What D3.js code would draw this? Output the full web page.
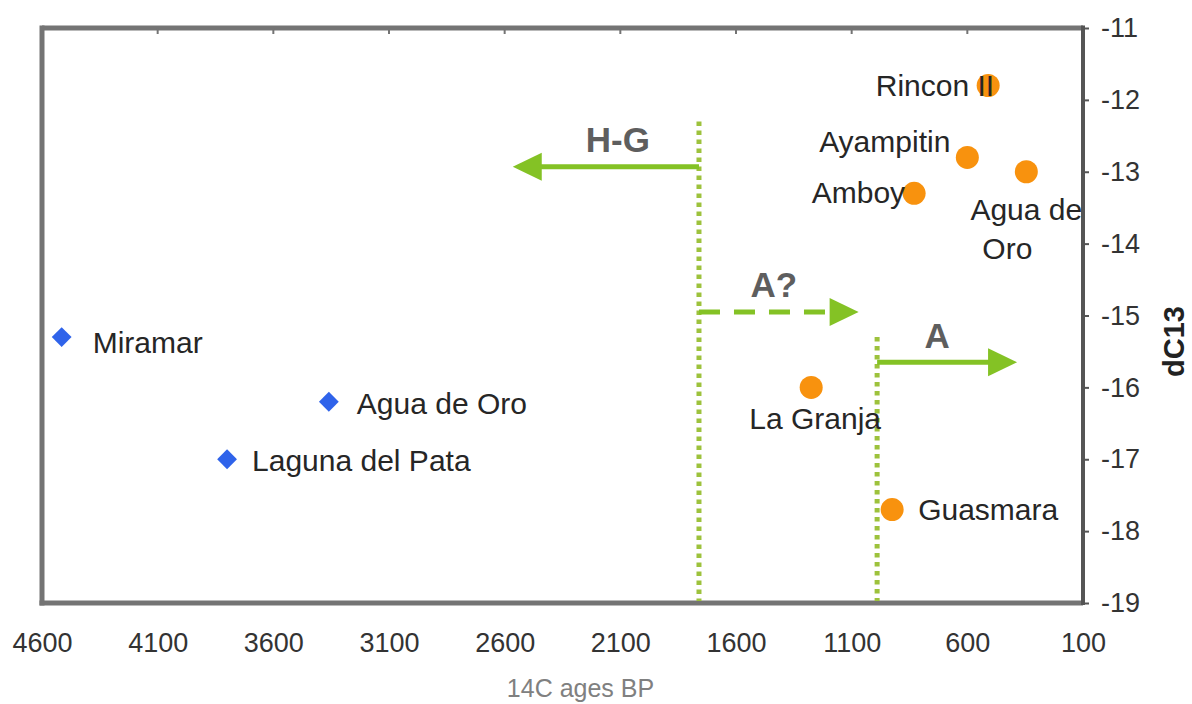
<!DOCTYPE html>
<html>
<head>
<meta charset="utf-8">
<script src="https://cdn.jsdelivr.net/npm/d3@7"></script>
<style>
  html, body { margin: 0; padding: 0; background: #fff; }
  svg { display: block; font-family: "Liberation Sans", Arial, Helvetica, sans-serif; }
</style>
</head>
<body>
<svg id="chart" width="1192" height="704"></svg>
<script>
// ---------- data ----------
const hgSites = ["Miramar", "Agua de Oro", "Laguna del Pata"];
const hgAges  = [4515, 3360, 3800];
const hgD13   = [-15.3, -16.2, -17.0];

const agSites = ["Rincon II", "Ayampitin", "Agua de Oro", "Amboy", "La Granja", "Guasmara"];
const agAges  = [510, 600, 345, 830, 1275, 925];
const agD13   = [-11.8, -12.8, -13.0, -13.3, -16.0, -17.7];

const xTicks = [4600, 4100, 3600, 3100, 2600, 2100, 1600, 1100, 600, 100];
const yTicks = [-11, -12, -13, -14, -15, -16, -17, -18, -19];

// period boundaries (age) and where the dotted line starts (dC13)
const boundaryAges = [1760, 990];
const boundaryTops = [-12.3, -15.3];

// period arrows
const arrowLabels = ["H-G", "A?", "A"];
const arrowFrom   = [1760, 1760, 990];
const arrowTo     = [2565, 1070, 385];
const arrowAt     = [-12.93, -14.95, -15.65];
const arrowDashed = [false, true, false];

const xTitle = "14C ages BP";
const yTitle = "dC13";

// ---------- layout / style ----------
const W = 1192, H = 704;
const L = 42, R = 1083, T = 28, B = 603;
const green = "#84c225", dotGreen = "#9dc23c";
const labelColor = "#262626";
const labelSize = 30;

// label placement relative to the marker (pixels)
const hgLabelStyle = [
  {dx: 31, dy: 16, anchor: "start"},
  {dx: 28, dy: 12, anchor: "start"},
  {dx: 25, dy: 12, anchor: "start"}
];
const agLabelStyle = [
  {lines: [{dx: 6, dy: 10}], anchor: "end"},
  {lines: [{dx: -17, dy: -5}], anchor: "end"},
  {lines: [{dx: 0, dy: 48}, {dx: -19, dy: 87}], anchor: "middle", split: ["Agua de", "Oro"]},
  {lines: [{dx: -9, dy: 10}], anchor: "end"},
  {lines: [{dx: 4, dy: 42}], anchor: "middle"},
  {lines: [{dx: 26, dy: 10}], anchor: "start"}
];
const arrowTextStyle = [{dx: 12, dy: -15}, {dx: -5, dy: -15}, {dx: -10, dy: -14}];

const svg = d3.select("#chart");
const x = d3.scaleLinear().domain([4600, 100]).range([L, R]);
const y = d3.scaleLinear().domain([-11, -19]).range([T, B]);

// ---------- frame ----------
const frameColor = "#747474";
svg.append("line").attr("x1", L).attr("x2", R).attr("y1", T).attr("y2", T)
  .attr("stroke", frameColor).attr("stroke-width", 5);
svg.append("line").attr("x1", L).attr("x2", L).attr("y1", T - 2.5).attr("y2", B + 2.5)
  .attr("stroke", frameColor).attr("stroke-width", 5);
svg.append("line").attr("x1", L - 2.5).attr("x2", R).attr("y1", B).attr("y2", B)
  .attr("stroke", frameColor).attr("stroke-width", 5);

// top ticks (inside)
svg.append("g").selectAll("line").data(xTicks.slice(1, -1)).join("line")
  .attr("x1", d => x(d)).attr("x2", d => x(d))
  .attr("y1", T).attr("y2", T + 6)
  .attr("stroke", frameColor).attr("stroke-width", 2);

// ---------- x axis (labels only) ----------
const xAxis = d3.axisBottom(x).tickValues(xTicks).tickSize(0).tickPadding(0)
  .tickFormat(d => String(d));
const gx = svg.append("g").attr("transform", `translate(0,${B})`).call(xAxis);
gx.select(".domain").remove();
gx.selectAll("text").attr("font-size", 27).attr("fill", "#333")
  .attr("font-family", "Liberation Sans, Arial, sans-serif")
  .attr("dy", 0).attr("y", 49);

// ---------- y axis (right) ----------
const yAxis = d3.axisRight(y).tickValues(yTicks).tickSize(6).tickPadding(12)
  .tickFormat(d => String(d));
const gy = svg.append("g").attr("transform", `translate(${R},0)`).call(yAxis);
gy.select(".domain").attr("stroke", "#555").attr("stroke-width", 4)
  .attr("d", `M0,${T - 2.5}V${B + 2}`);
gy.selectAll(".tick line").attr("stroke", "#555").attr("stroke-width", 2);
gy.selectAll("text").attr("font-size", 27).attr("fill", "#333")
  .attr("font-family", "Liberation Sans, Arial, sans-serif");

// axis titles
svg.append("text").attr("x", (L + R) / 2 + 18).attr("y", 697)
  .attr("text-anchor", "middle").attr("font-size", 25).attr("fill", "#808080")
  .text(xTitle);
svg.append("text")
  .attr("transform", `translate(1184,${(T + B) / 2 + 26}) rotate(-90)`)
  .attr("text-anchor", "middle").attr("font-size", 29).attr("font-weight", "bold")
  .attr("fill", "#222").text(yTitle);

// ---------- boundaries ----------
svg.append("g").selectAll("line").data(boundaryAges).join("line")
  .attr("x1", d => x(d)).attr("x2", d => x(d))
  .attr("y1", (d, i) => y(boundaryTops[i])).attr("y2", B - 2)
  .attr("stroke", dotGreen).attr("stroke-width", 5)
  .attr("stroke-dasharray", "4.5,4.5");

// ---------- arrows ----------
const headLen = 29, headHalf = 14;
arrowLabels.forEach((lab, i) => {
  const x0 = x(arrowFrom[i]), x1 = x(arrowTo[i]), yy = y(arrowAt[i]);
  const dir = x1 > x0 ? 1 : -1;
  const base = x1 - dir * headLen;
  svg.append("line").attr("x1", x0).attr("x2", base + dir * 2).attr("y1", yy).attr("y2", yy)
    .attr("stroke", green).attr("stroke-width", 5)
    .attr("stroke-dasharray", arrowDashed[i] ? "21,14" : null);
  svg.append("path")
    .attr("d", `M${x1},${yy}L${base},${yy - headHalf}L${base},${yy + headHalf}Z`)
    .attr("fill", green);
  const st = arrowTextStyle[i];
  svg.append("text").attr("x", (x0 + x1) / 2 + st.dx).attr("y", yy + st.dy)
    .attr("text-anchor", "middle").attr("font-size", 35).attr("font-weight", "bold")
    .attr("fill", "#5e5e5e").text(lab);
});

// ---------- H-G sites (blue diamonds) ----------
const gHG = svg.append("g");
hgSites.forEach((s, i) => {
  const px = x(hgAges[i]), py = y(hgD13[i]);
  gHG.append("path")
    .attr("d", d3.symbol().type(d3.symbolDiamond2).size(250)())
    .attr("transform", `translate(${px},${py})`)
    .attr("fill", "#2f63ea");
  const st = hgLabelStyle[i];
  gHG.append("text").attr("x", px + st.dx).attr("y", py + st.dy)
    .attr("text-anchor", st.anchor).attr("font-size", labelSize).attr("fill", labelColor)
    .text(s);
});

// ---------- agricultural sites (orange circles) ----------
const gAG = svg.append("g");
agSites.forEach((s, i) => {
  gAG.append("circle").attr("cx", x(agAges[i])).attr("cy", y(agD13[i]))
    .attr("r", 11.5).attr("fill", "#f8920e");
});
agSites.forEach((s, i) => {
  const px = x(agAges[i]), py = y(agD13[i]);
  const st = agLabelStyle[i];
  const parts = st.split || [s];
  parts.forEach((p, j) => {
    gAG.append("text").attr("x", px + st.lines[j].dx).attr("y", py + st.lines[j].dy)
      .attr("text-anchor", st.anchor).attr("font-size", labelSize).attr("fill", labelColor)
      .text(p);
  });
});
</script>
</body>
</html>
